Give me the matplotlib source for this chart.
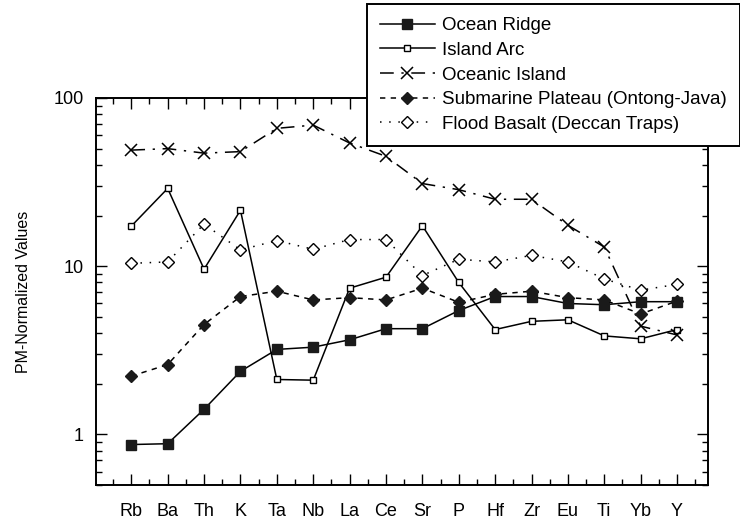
import matplotlib
matplotlib.use("Agg")
import matplotlib.pyplot as plt
from matplotlib.ticker import LogLocator, NullFormatter, FixedLocator, FixedFormatter
import numpy as np

plt.rcParams['font.family'] = ['Liberation Sans', 'DejaVu Sans']

elements = ["Rb", "Ba", "Th", "K", "Ta", "Nb", "La", "Ce", "Sr", "P",
            "Hf", "Zr", "Eu", "Ti", "Yb", "Y"]

ocean_ridge = [0.87, 0.88, 1.41, 2.37, 3.2, 3.3, 3.65, 4.25, 4.25, 5.45,
               6.6, 6.6, 6.0, 5.9, 6.15, 6.15]
island_arc = [17.3, 29.0, 9.6, 21.5, 2.12, 2.1, 7.4, 8.6, 17.4, 8.0,
              4.2, 4.7, 4.8, 3.85, 3.7, 4.2]
oceanic_island = [49, 50, 47, 48, 66, 69, 54, 45, 31, 28.5,
                  25, 25, 17.5, 13, 4.4, 3.9]
sub_plateau = [2.22, 2.6, 4.5, 6.6, 7.1, 6.3, 6.5, 6.3, 7.4, 6.1,
               6.8, 7.1, 6.5, 6.3, 5.2, 6.2]
flood_basalt = [10.4, 10.6, 17.8, 12.5, 14.2, 12.6, 14.4, 14.4, 8.8, 11.0,
                10.6, 11.6, 10.6, 8.4, 7.2, 7.8]

fig = plt.figure(figsize=(7.4, 5.23), dpi=100)
ax = fig.add_axes([96/740, 1-485/523, (708-96)/740, (485-98)/523])

x = np.arange(len(elements))
lw = 1.1
ax.plot(x, ocean_ridge, color='black', lw=lw, marker='s', ms=7,
        mfc='#1a1a1a', mec='#1a1a1a', label='Ocean Ridge')
ax.plot(x, island_arc, color='black', lw=lw, marker='s', ms=5,
        mfc='white', mec='black', mew=1.0, label='Island Arc')
ax.plot(x, oceanic_island, color='black', lw=lw, ls=(0, (9, 5, 1.5, 5)),
        marker='x', ms=8, mew=1.1, label='Oceanic Island')
ax.plot(x, sub_plateau, color='black', lw=lw, ls=(0, (3.5, 3.5)),
        marker='D', ms=6.5, mfc='#1a1a1a', mec='#1a1a1a', label='Submarine Plateau (Ontong-Java)')
ax.plot(x, flood_basalt, color='black', lw=lw, ls=(0, (1, 5)),
        marker='D', ms=6.5, mfc='white', mec='black', mew=1.0, label='Flood Basalt (Deccan Traps)')

ax.set_yscale('log')
ax.set_ylim(0.5, 100)
ax.set_xlim(-0.97, 15.85)

ax.xaxis.set_major_locator(FixedLocator(x))
ax.xaxis.set_major_formatter(FixedFormatter(elements))
ax.xaxis.set_minor_locator(FixedLocator(np.arange(-0.5, 16, 1.0)))
ax.yaxis.set_major_locator(FixedLocator([1, 10, 100]))
ax.yaxis.set_major_formatter(FixedFormatter(['1', '10', '100']))
ax.yaxis.set_minor_locator(LogLocator(base=10, subs=np.arange(2, 10) * 1.0))
ax.yaxis.set_minor_formatter(NullFormatter())

ax.tick_params(axis='both', which='both', direction='in', top=True, right=True,
               labelsize=13, width=1.0)
ax.tick_params(axis='both', which='major', length=8)
ax.tick_params(axis='x', which='major', pad=13)
ax.tick_params(axis='y', which='major', pad=9)
ax.tick_params(axis='both', which='minor', length=4)
for s in ax.spines.values():
    s.set_linewidth(1.4)

ax.set_ylabel('PM-Normalized Values', fontsize=11.5, labelpad=16)

leg = fig.legend(loc='upper left', bbox_to_anchor=(367/740, 1-4/523),
                 fontsize=13.5, frameon=True, fancybox=False, edgecolor='black',
                 handlelength=2.9, borderpad=0.7, labelspacing=0.4,
                 handletextpad=0.4, borderaxespad=0.0, framealpha=1)
leg.get_frame().set_linewidth(1.4)

fig.savefig('out.png', dpi=100)
